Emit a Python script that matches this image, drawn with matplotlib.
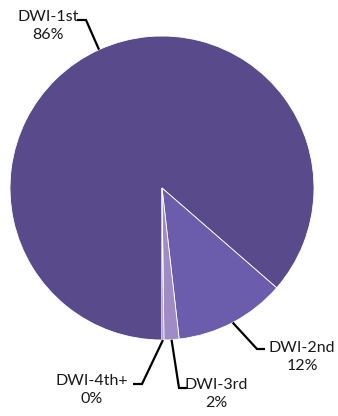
import numpy as np
import matplotlib.pyplot as plt

# Share of DWI offences by count
labels = ['DWI-1st', 'DWI-2nd', 'DWI-3rd', 'DWI-4th+']
shares = [86.4, 11.8, 1.6, 0.2]
pct_text = ['86%', '12%', '2%', '0%']
colors = ['#584a8b', '#6b5dab', '#a08cc5', '#7a68b5']

# label placement (pixel coords, y from top): text centre, elbow, end of leader
text_pos = [(48, 26), (302, 357), (216, 394), (92, 390)]
elbows = [(86, 20), (257, 349), (179, 388), (142, 384)]
ends = [(77, 20), (265, 349), (187, 388), (133, 384)]

W, H = 338, 416
cx, cy, r = 162, H - 188, 152

fig = plt.figure(figsize=(W / 100, H / 100), dpi=100)
ax = fig.add_axes([0, 0, 1, 1])

wedges, _ = ax.pie(shares, colors=colors, startangle=270, counterclock=False,
                   center=(cx, cy), radius=r,
                   wedgeprops=dict(edgecolor='white', linewidth=0.6))

ax.set_xlim(0, W)
ax.set_ylim(0, H)
ax.set_aspect('equal')
ax.axis('off')

for i, w in enumerate(wedges):
    mid = np.deg2rad((w.theta1 + w.theta2) / 2)
    x0 = cx + r * np.cos(mid)
    y0 = cy + r * np.sin(mid)
    ex, ey = elbows[i]
    tx, ty = ends[i]
    ax.plot([x0, ex, tx], [y0, H - ey, H - ty], color='black', lw=1.6,
            solid_capstyle='butt', solid_joinstyle='miter')
    px, py = text_pos[i]
    ax.text(px, H - py, labels[i] + '\n' + pct_text[i], ha='center', va='center',
            fontsize=11.5, family='Lato', linespacing=1.35, color='#1a1a1a')

fig.savefig('out.png', dpi=100)
